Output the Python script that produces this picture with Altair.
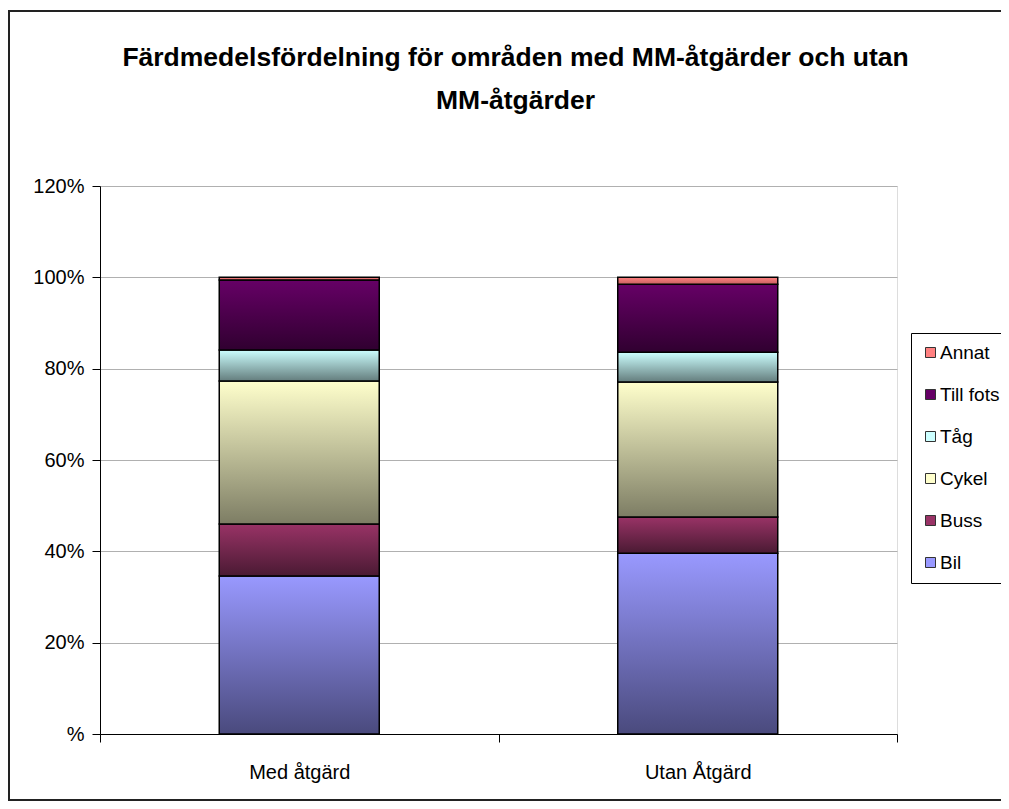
import altair as alt
import pandas as pd

categories = ["Med åtgärd", "Utan Åtgärd"]
series = ["Bil", "Buss", "Cykel", "Tåg", "Till fots", "Annat"]
med_values = [0.346, 0.114, 0.313, 0.068, 0.153, 0.006]
utan_values = [0.396, 0.079, 0.296, 0.065, 0.149, 0.015]
legend_order = ["Annat", "Till fots", "Tåg", "Cykel", "Buss", "Bil"]
top_colors = {"Bil": "#9999FF", "Buss": "#993366", "Cykel": "#FFFFCC",
              "Tåg": "#CCFFFF", "Till fots": "#660066", "Annat": "#FF8080"}
bottom_colors = {"Bil": "#4a4a7d", "Buss": "#4a1a33", "Cykel": "#7d7d64",
                 "Tåg": "#647d7d", "Till fots": "#300030", "Annat": "#c86060"}
y_ticks = [0, 0.2, 0.4, 0.6, 0.8, 1.0, 1.2]

rows = []
for ci, (cat, vals) in enumerate(zip(categories, [med_values, utan_values])):
    for si, (s, v) in enumerate(zip(series, vals)):
        rows.append({"cat": cat, "series": s, "value": v, "order": si})
df = pd.DataFrame(rows)

FONT = "Liberation Sans"

x_enc = alt.X("cat:N", sort=categories, title=None,
              scale=alt.Scale(paddingInner=0, paddingOuter=0),
              axis=alt.Axis(tickBand="extent", labelAngle=0, labelFontSize=20,
                            labelColor="black", labelFont=FONT, tickSize=8,
                            tickColor="black", domainColor="black",
                            labelPadding=20, grid=False))
y_enc = alt.Y("y0:Q", title=None,
              scale=alt.Scale(domain=[0, 1.2], nice=False),
              axis=alt.Axis(values=y_ticks,
                            labelExpr="datum.value == 0 ? '%' : format(datum.value, '.0%')",
                            labelFontSize=20, labelColor="black", labelFont=FONT,
                            tickSize=8, tickColor="black", domainColor="black",
                            labelPadding=8, grid=True, gridColor="#b0b0b0",
                            gridWidth=1))

base = alt.Chart(df).transform_stack(
    stack="value", groupby=["cat"], as_=["y0", "y1"],
    sort=[alt.SortField("order", order="ascending")]
)

legend_layer = base.mark_bar(width=160).encode(
    x=x_enc, y=y_enc, y2="y1:Q",
    color=alt.Color("series:N",
                    scale=alt.Scale(domain=legend_order,
                                    range=[top_colors[s] for s in legend_order]),
                    legend=alt.Legend(title=None, orient="none", legendX=811, legendY=147,
                                      symbolType="square", symbolSize=100,
                                      symbolStrokeColor="#333333", symbolStrokeWidth=1,
                                      labelFontSize=19, labelFont=FONT, labelColor="black",
                                      rowPadding=22, padding=10, labelOffset=0,
                                      strokeColor="black", fillColor="white",
                                      labelLimit=200)),
)

layers = [legend_layer]
for s in series:
    grad = alt.Gradient(
        gradient="linear",
        stops=[alt.GradientStop(color=top_colors[s], offset=0),
               alt.GradientStop(color=bottom_colors[s], offset=1)],
        x1=0, x2=0, y1=0, y2=1,
    )
    layers.append(
        base.transform_filter(alt.datum.series == s)
        .mark_bar(width=160, fill=grad, stroke="black", strokeWidth=1.5)
        .encode(x=x_enc, y=y_enc, y2="y1:Q")
    )

frame = alt.Chart(pd.DataFrame({"a": [0]})).mark_rect(
    filled=False, stroke="#222222", strokeWidth=2
).encode(x=alt.value(-91), x2=alt.value(930), y=alt.value(-175), y2=alt.value(614))
layers.append(frame)

chart = alt.layer(*layers).properties(
    width=797, height=548,
    title=alt.Title(
        ["Färdmedelsfördelning för områden med MM-åtgärder och utan", "MM-åtgärder"],
        fontSize=26.5, font=FONT, fontWeight="bold", color="black",
        anchor="middle", frame="group", dx=17, offset=-104, lineHeight=43,
    ),
    autosize=alt.AutoSizeParams(type="none"),
    padding={"left": 92, "top": 178, "right": 104, "bottom": 67},
).configure_view(stroke="#888888", strokeWidth=1.5).configure(background="white")

chart.save("out.html", embed_options={"renderer": "svg", "actions": False})
